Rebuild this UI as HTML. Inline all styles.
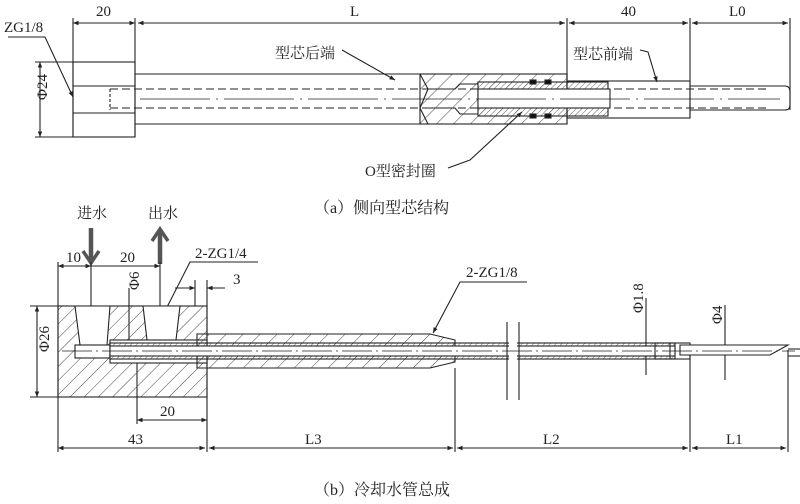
<!DOCTYPE html>
<html><head><meta charset="utf-8"><style>
html,body{margin:0;padding:0;background:#fff}
svg{display:block}
text{font-family:"Liberation Serif","Noto Serif CJK SC",serif;fill:#222}
</style></head><body>
<svg width="800" height="504" viewBox="0 0 800 504" xmlns="http://www.w3.org/2000/svg">
<defs>
<pattern id="h" width="10" height="10" patternUnits="userSpaceOnUse" patternTransform="rotate(45)">
<line x1="0" y1="0" x2="0" y2="10" stroke="#444" stroke-width="1"/></pattern>
<pattern id="h2" width="12" height="12" patternUnits="userSpaceOnUse" patternTransform="rotate(45)">
<line x1="0" y1="0" x2="0" y2="12" stroke="#444" stroke-width="1"/></pattern>
<pattern id="hf" width="4" height="4" patternUnits="userSpaceOnUse" patternTransform="rotate(45)">
<line x1="0" y1="0" x2="0" y2="4" stroke="#444" stroke-width="0.8"/></pattern>
<marker id="a" viewBox="0 0 10 10" refX="10" refY="5" markerWidth="7" markerHeight="5" orient="auto-start-reverse"><path d="M0,1L10,5L0,9z" fill="#222"/></marker>
</defs>
<g stroke="#222" stroke-width="1.1" fill="none">
<line x1="73" y1="18" x2="73" y2="137"/><line x1="135" y1="18" x2="135" y2="137"/>
<line x1="567" y1="18" x2="567" y2="80"/><line x1="690" y1="18" x2="690" y2="118"/><line x1="790" y1="18" x2="790" y2="110"/>
<line x1="73" y1="23" x2="135" y2="23" marker-start="url(#a)" marker-end="url(#a)"/>
<line x1="138" y1="23" x2="565" y2="23" marker-start="url(#a)" marker-end="url(#a)"/>
<line x1="569" y1="23" x2="688" y2="23" marker-start="url(#a)" marker-end="url(#a)"/>
<line x1="692" y1="23" x2="788" y2="23" marker-start="url(#a)" marker-end="url(#a)"/>
<line x1="35" y1="62" x2="73" y2="62"/><line x1="35" y1="137" x2="73" y2="137"/>
<line x1="40" y1="62" x2="40" y2="137" marker-start="url(#a)" marker-end="url(#a)"/>
<rect x="73" y="62" width="62" height="75"/>
<line x1="73" y1="86" x2="135" y2="86"/><line x1="73" y1="113" x2="135" y2="113"/>
<line x1="110" y1="89" x2="110" y2="110" stroke-dasharray="3,2"/>
<path d="M135,74H567V124H135"/>
<rect x="420" y="74" width="147" height="50" fill="url(#h2)"/>
<path d="M420,74 L428,89 L420,108 L428,124" />
<rect x="478" y="82" width="130" height="34" fill="url(#hf)"/>
<rect x="567" y="81" width="123" height="37"/>
<path d="M690,86H785Q790,86 790,92V105Q790,110 785,110H690"/>
<path d="M428,89 H455 L460,84 H478 M428,108 H455 L460,114 H478"/>
<rect x="478" y="89" width="132" height="19" fill="#fff"/>
<rect x="530" y="80" width="6" height="4" fill="#111"/><rect x="545" y="80" width="6" height="4" fill="#111"/>
<rect x="530" y="114" width="6" height="4" fill="#111"/><rect x="545" y="114" width="6" height="4" fill="#111"/>
<line x1="110" y1="89" x2="770" y2="89" stroke-dasharray="8,4"/>
<line x1="110" y1="108" x2="770" y2="108" stroke-dasharray="8,4"/>
<line x1="140" y1="99" x2="780" y2="99" stroke-dasharray="70,6,2,6" stroke-width="0.8"/>
<path d="M8,37H45L73,97" marker-end="url(#a)"/>
<path d="M342,50L395,80" marker-end="url(#a)"/>
<path d="M640,50L648,52L657,82" marker-end="url(#a)"/>
<path d="M448,168L470,160L522,112" marker-end="url(#a)"/>
<line x1="91" y1="228" x2="91" y2="260" stroke="#555" stroke-width="4.5"/>
<path d="M83,251L91,263L99,251" stroke="#555" stroke-width="3.5"/>
<line x1="160" y1="264" x2="160" y2="232" stroke="#555" stroke-width="4.5"/>
<path d="M152,241L160,229L168,241" stroke="#555" stroke-width="3.5"/>
<line x1="58" y1="262" x2="58" y2="452"/><line x1="207" y1="280" x2="207" y2="452"/>
<line x1="195" y1="280" x2="195" y2="306"/>
<line x1="58" y1="266" x2="91" y2="266" marker-start="url(#a)" marker-end="url(#a)"/>
<line x1="91" y1="266" x2="160" y2="266" marker-end="url(#a)"/>
<line x1="91" y1="262" x2="91" y2="345"/><line x1="160" y1="262" x2="160" y2="340"/>
<line x1="175" y1="288" x2="195" y2="288" marker-end="url(#a)"/>
<line x1="225" y1="288" x2="207" y2="288" marker-end="url(#a)"/>
<path d="M258,262H190L163,315" marker-end="url(#a)"/>
<line x1="30" y1="306" x2="58" y2="306"/><line x1="30" y1="397" x2="58" y2="397"/>
<line x1="37" y1="306" x2="37" y2="397" marker-start="url(#a)" marker-end="url(#a)"/>
<line x1="129" y1="288" x2="129" y2="345"/>
<line x1="137" y1="345" x2="137" y2="424"/>
<line x1="137" y1="420" x2="207" y2="420" marker-start="url(#a)" marker-end="url(#a)"/>
<line x1="455" y1="368" x2="455" y2="452"/><line x1="690" y1="355" x2="690" y2="452"/><line x1="788" y1="350" x2="788" y2="452"/>
<line x1="58" y1="448" x2="205" y2="448" marker-start="url(#a)" marker-end="url(#a)"/>
<line x1="209" y1="448" x2="453" y2="448" marker-start="url(#a)" marker-end="url(#a)"/>
<line x1="457" y1="448" x2="688" y2="448" marker-start="url(#a)" marker-end="url(#a)"/>
<line x1="692" y1="448" x2="786" y2="448" marker-start="url(#a)" marker-end="url(#a)"/>
<path d="M527,282H460L433,333" marker-end="url(#a)"/>
<line x1="646" y1="298" x2="646" y2="375"/><line x1="725" y1="305" x2="725" y2="380"/>
<rect x="58" y="306" width="149" height="91" fill="url(#h)"/>
<path d="M75,306L80,345H107L110,306Z" fill="#fff"/>
<path d="M143,306L147,340H176L180,306Z" fill="#fff"/>
<rect x="75" y="345" width="35" height="13" fill="#fff"/>
<rect x="110" y="340" width="97" height="23" fill="#fff"/>
<path d="M197,334H430L455,340V362L430,368H197Z" fill="url(#h2)"/>
<rect x="110" y="343" width="565" height="16" fill="url(#hf)"/>
<rect x="110" y="346" width="565" height="10" fill="#fff"/>
<rect x="655" y="343" width="35" height="16"/>
<line x1="670" y1="343" x2="670" y2="359"/>
<path d="M680,345H788L770,355H680Z" fill="#fff"/>
<line x1="788" y1="349" x2="800" y2="349"/><line x1="788" y1="356" x2="800" y2="356"/>
<rect x="509" y="330" width="8" height="50" fill="#fff" stroke="none"/>
<line x1="507" y1="322" x2="507" y2="400"/><line x1="519" y1="322" x2="519" y2="400"/>
<line x1="62" y1="351" x2="795" y2="351" stroke-dasharray="30,4,2,4" stroke-width="0.7"/>
</g>
<g font-size="15">
<text x="4" y="32">ZG1/8</text>
<text x="96" y="16">20</text>
<text x="350" y="16">L</text>
<text x="621" y="16">40</text>
<text x="729" y="16">L0</text>
<text x="275" y="58">型芯后端</text>
<text x="573" y="59">型芯前端</text>
<text x="365" y="176">O型密封圈</text>
<text x="33" y="114" transform="rotate(-90 33 100)">Φ24</text>
<text x="77" y="218">进水</text>
<text x="148" y="218">出水</text>
<text x="66" y="262">10</text>
<text x="120" y="262">20</text>
<text x="195" y="258">2-ZG1/4</text>
<text x="233" y="284">3</text>
<text x="127" y="302" transform="rotate(-90 127 290)">Φ6</text>
<text x="35" y="366" transform="rotate(-90 35 352)">Φ26</text>
<text x="160" y="416">20</text>
<text x="128" y="444">43</text>
<text x="305" y="444">L3</text>
<text x="543" y="444">L2</text>
<text x="726" y="444">L1</text>
<text x="466" y="277">2-ZG1/8</text>
<text x="643" y="313" transform="rotate(-90 643 313)">Φ1.8</text>
<text x="722" y="324" transform="rotate(-90 722 324)">Φ4</text>
</g>
<g font-size="16">
<text x="314" y="213">（a）侧向型芯结构</text>
<text x="314" y="495">（b）冷却水管总成</text>
</g>
</svg>
</body></html>
